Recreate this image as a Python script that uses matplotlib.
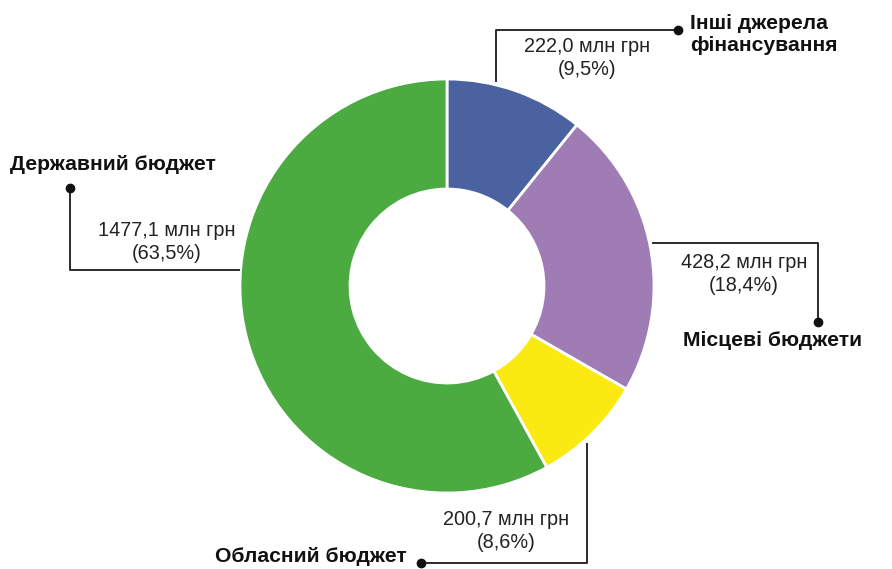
import matplotlib
matplotlib.use("Agg")
import matplotlib.pyplot as plt

labels = ["Інші джерела\nфінансування", "Місцеві бюджети", "Обласний бюджет", "Державний бюджет"]
values = [222.0, 428.2, 200.7, 1477.1]           # млн грн (as labelled)
# slice shares as actually drawn in the reference picture (%)
slice_shares = [10.8, 22.5, 8.7, 58.0]
value_text = ["222,0 млн грн", "428,2 млн грн", "200,7 млн грн", "1477,1 млн грн"]
percent_text = ["(9,5%)", "(18,4%)", "(8,6%)", "(63,5%)"]
colors = ["#4A63A0", "#9F7DB4", "#FBEA12", "#4BAA40"]

W, H = 892, 569
fig = plt.figure(figsize=(W / 100, H / 100), dpi=100)
ax = fig.add_axes([0, 0, 1, 1])

def py(y):
    return H - y

cx, cy, R = 447, py(286), 207
ax.pie(slice_shares, colors=colors, startangle=90, counterclock=False,
       center=(cx, cy), radius=R,
       wedgeprops=dict(width=R - 97, edgecolor="white", linewidth=2))
ax.set_xlim(0, W)
ax.set_ylim(0, H)
ax.set_aspect("equal")
ax.axis("off")

font = "Liberation Sans"
lc = "#2b2b2b"
lw = 1.4
tfs = 15.2
vfs = 14.3

def leader(xs, ys, dot):
    ax.plot(xs, [py(v) for v in ys], color=lc, lw=lw, solid_capstyle="butt")
    ax.plot([dot[0]], [py(dot[1])], "o", color="#111111", ms=6)

def vtext(x, y, i):
    ax.text(x, py(y), value_text[i] + "\n" + percent_text[i], fontsize=vfs, family=font,
            ha="center", va="center", linespacing=1.3, color="#222222")

# Інші
leader([496, 496, 678], [82, 30, 30], (678, 30))
ax.text(690, py(34), labels[0], fontsize=tfs, fontweight="bold", family=font,
        ha="left", va="center", linespacing=1.2, color="#111111")
vtext(587, 58, 0)

# Місцеві
leader([652, 818, 818], [243, 243, 322], (818, 322))
ax.text(683, py(341), labels[1], fontsize=tfs, fontweight="bold", family=font,
        ha="left", va="center", color="#111111")
vtext(744, 274, 1)

# Обласний
leader([587, 587, 421], [443, 563, 563], (421, 563))
ax.text(407, py(556), labels[2], fontsize=tfs, fontweight="bold", family=font,
        ha="right", va="center", color="#111111")
vtext(506, 531, 2)

# Державний
leader([70, 70, 240], [188, 270, 270], (70, 188))
ax.text(10, py(164), labels[3], fontsize=tfs, fontweight="bold", family=font,
        ha="left", va="center", color="#111111")
vtext(167, 242, 3)

fig.savefig("out.png", dpi=100, facecolor="white")
